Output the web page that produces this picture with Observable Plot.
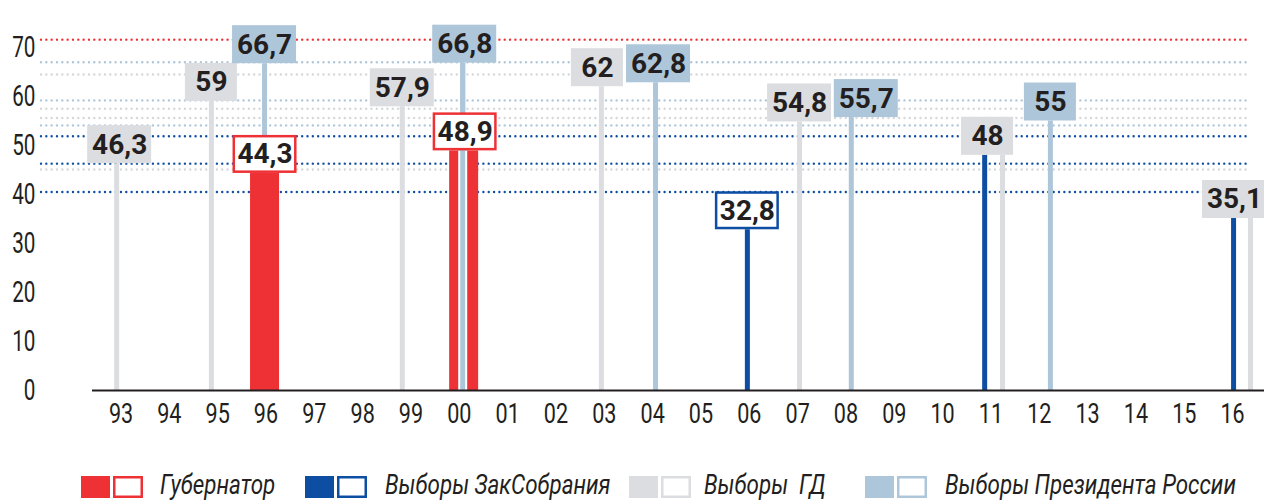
<!DOCTYPE html>
<html>
<head>
<meta charset="utf-8">
<script src="https://cdn.jsdelivr.net/npm/d3@7"></script>
<script src="https://cdn.jsdelivr.net/npm/@observablehq/plot@0.6"></script>
<style>
  body { margin: 0; background: #fff; }
  #chart svg, #legend svg { display: block; }
</style>
</head>
<body>
<div id="chart"></div>
<div id="legend"></div>
<script>
// ---- data ----
// election dates as fractional years, turnout %
const govDates   = [1995.98, 2000.10];
const govValues  = [44.3, 48.9];

const zaksDates  = [2005.96, 2010.87, 2016.02];
const zaksValues = [32.8, 48, 35.1];

const dumaDates  = [1992.91, 1994.87, 1998.82, 2002.94, 2007.04, 2011.24, 2016.37];
const dumaValues = [46.3, 59, 57.9, 62, 54.8, 48, 35.1];

const presDates  = [1995.97, 2000.07, 2004.06, 2008.11, 2012.23];
const presValues = [66.7, 66.8, 62.8, 55.7, 55];

// dotted reference levels (value units)
const redLevels  = [71.6];
const presLevels = [67.0, 59.2, 54.1];
const dumaLevels = [64.5, 57.5, 55.6, 45.1];
const zaksLevels = [51.9, 46.3, 40.5];

const yTicks = [0, 10, 20, 30, 40, 50, 60, 70];
const xTicks = d3.range(1993, 2017);

const legendLabels = ["Губернатор", "Выборы ЗакСобрания", "Выборы  ГД", "Выборы Президента России"];

// ---- styling ----
const RED = "#ee3135", DBLUE = "#0d4ea3", GRAY = "#dcdde0", LBLUE = "#aec6da", INK = "#231f20";
const FONT = "Roboto, sans-serif";

const X_DOMAIN = [1992.41, 2016.66];
const WIDTH = 1264, HEIGHT = 450, ML = 92, MR = 0, MT = 47, MB = 60;
const PX_PER_YEAR = (WIDTH - ML - MR) / (X_DOMAIN[1] - X_DOMAIN[0]);
const PX_PER_UNIT = (HEIGHT - MB - MT) / 70;
const yr = px => px / PX_PER_YEAR;
const un = px => px / PX_PER_UNIT;

const zip = (dates, values, s) => dates.map((x, i) => ({x, v: values[i], s, key: s + Math.round(x)}));
const gov  = zip(govDates, govValues, "gov");
const zaks = zip(zaksDates, zaksValues, "zaks");
const duma = zip(dumaDates, dumaValues, "duma");
const pres = zip(presDates, presValues, "pres");

const labelNudge = {duma1993: 3, duma2003: -4, pres2004: 3, pres2008: 15, duma2011: -15, duma2016: -16, gov2000: 1, pres2000: 2};
const fmt = v => String(v).replace(".", ",");
const lab = d => ({...d, lx: d.x + yr(labelNudge[d.key] || 0), t: fmt(d.v), w: fmt(d.v).length > 2 ? 64 : 52});

const filledLabels = [
  ...duma.map(d => ({...lab(d), fill: GRAY})),
  ...pres.map(d => ({...lab(d), fill: LBLUE}))
];
const outlinedLabels = [
  ...gov.map(d => ({...lab(d), stroke: RED})),
  ...zaks.filter(z => !duma.some(d => Math.abs(d.x - z.x) < 0.5)).map(d => ({...lab(d), stroke: DBLUE}))
];
const allLabels = [...filledLabels, ...outlinedLabels];

// president stems that pass through a governor bar
const overlay = pres.filter(p => Math.round(p.x) === 2000)
  .map(p => ({...p, g: gov.find(g => Math.abs(g.x - p.x) < 0.5).v}));

const levelLines = [
  ...redLevels.map(v => ({v, c: RED})),
  ...presLevels.map(v => ({v, c: LBLUE})),
  ...dumaLevels.map(v => ({v, c: "#d6d7d9"})),
  ...zaksLevels.map(v => ({v, c: DBLUE}))
];
const xLine1 = X_DOMAIN[0] + (41 - ML) / PX_PER_YEAR;
const xLine2 = X_DOMAIN[0] + (1247 - ML) / PX_PER_YEAR;

const chart = Plot.plot({
  width: WIDTH, height: HEIGHT,
  marginLeft: ML, marginRight: MR, marginTop: MT, marginBottom: MB,
  style: {fontFamily: FONT, color: INK, background: "#fff", overflow: "visible"},
  x: {domain: X_DOMAIN, type: "linear"},
  y: {domain: [0, 70]},
  marks: [
    Plot.ruleY(levelLines, {y: "v", x1: xLine1, x2: xLine2, stroke: "c", strokeWidth: 2.4,
      strokeDasharray: "0,5.33", strokeLinecap: "round"}),
    Plot.ruleX(duma, {x: "x", y1: 0, y2: "v", stroke: GRAY, strokeWidth: 5}),
    Plot.ruleX(zaks, {x: "x", y1: 0, y2: "v", stroke: DBLUE, strokeWidth: 5}),
    Plot.ruleX(pres, {x: "x", y1: 0, y2: "v", stroke: LBLUE, strokeWidth: 5}),
    Plot.rect(gov, {x1: d => d.x - yr(14.5), x2: d => d.x + yr(14.5), y1: 0, y2: "v", fill: RED}),
    Plot.ruleX(overlay, {x: "x", y1: 0, y2: "g", stroke: "#fff", strokeWidth: 9}),
    Plot.ruleX(overlay, {x: "x", y1: 0, y2: "v", stroke: LBLUE, strokeWidth: 5}),
    Plot.ruleY([0], {stroke: INK, strokeWidth: 2}),
    Plot.rect(filledLabels, {x1: d => d.lx - yr(d.w / 2), x2: d => d.lx + yr(d.w / 2),
      y1: "v", y2: d => d.v + un(38), fill: "fill"}),
    Plot.rect(outlinedLabels, {x1: d => d.lx - yr(d.w / 2 - 1.25), x2: d => d.lx + yr(d.w / 2 - 1.25),
      y1: d => d.v + un(1.25), y2: d => d.v + un(36.75), fill: "#fff", stroke: "stroke", strokeWidth: 2.5}),
    Plot.text(allLabels, {x: "lx", y: d => d.v + un(19), text: "t", fontSize: 28, fontWeight: "bold", fill: INK,
      ariaLabel: "value label"}),
    Plot.axisY({ticks: yTicks, tickSize: 0, tickPadding: 57, fontSize: 30, fill: INK}),
    Plot.axisX({ticks: xTicks, tickFormat: d => String(d).slice(2), tickSize: 0, tickPadding: 13, fontSize: 27, fill: INK})
  ]
});

// condense the glyphs horizontally (the original uses a condensed typeface)
const squeeze = {"y-axis tick label": 0.69, "x-axis tick label": 0.8, "value label": 0.89};
chart.querySelectorAll("g[aria-label]").forEach(g => {
  const s = squeeze[g.getAttribute("aria-label")];
  if (!s) return;
  g.querySelectorAll("text").forEach(el => {
    const t = el.getAttribute("transform") || "";
    el.setAttribute("transform", `${t} scale(${s},1)`);
  });
});
document.getElementById("chart").append(chart);

// ---- legend (below the chart) ----
const legendColors = [RED, DBLUE, GRAY, LBLUE];
const swatchX = [81, 305, 629, 865];
const textX = [160, 385, 704, 945];
const lsvg = d3.select("#legend").append("svg").attr("width", WIDTH).attr("height", 50)
  .style("font-family", FONT);
legendLabels.forEach((name, i) => {
  lsvg.append("rect").attr("x", swatchX[i]).attr("y", 26).attr("width", 29).attr("height", 22)
    .attr("fill", legendColors[i]);
  lsvg.append("rect").attr("x", swatchX[i] + 33.25).attr("y", 27.25).attr("width", 27.5).attr("height", 19.5)
    .attr("fill", "#fff").attr("stroke", legendColors[i]).attr("stroke-width", 2.5);
  lsvg.append("text").attr("transform", `translate(${textX[i]},${44}) scale(0.83,1)`)
    .attr("font-size", 27).attr("font-style", "italic").attr("fill", INK)
    .attr("xml:space", "preserve").style("white-space", "pre").text(name);
});
</script>
</body>
</html>
